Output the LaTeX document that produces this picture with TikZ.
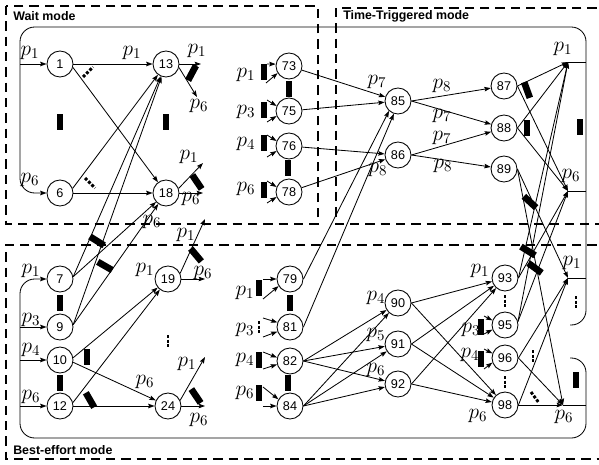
\RequirePackage{fix-cm}
\documentclass[tikz,border=0pt]{standalone}
\usepackage{fontspec}
\setsansfont{Liberation Sans}
\usetikzlibrary{arrows.meta}
\begin{document}
\begin{tikzpicture}[x=0.75pt,y=-0.75pt,
  st/.style={circle,draw,fill=white,line width=0.65pt,minimum size=19.5pt,inner sep=0pt,
    font=\sffamily\fontsize{9.5}{10}\selectfont},
  arr/.style={line width=0.62pt,-{Stealth[length=4.8pt,width=3.4pt,inset=0.8pt]}},
  ln/.style={line width=0.62pt},
  lab/.style={inner sep=0pt,font=\fontsize{16}{17}\selectfont},
  blk/.style={fill=black,draw=none,inner sep=0pt,minimum width=5pt,minimum height=12.5pt},
  dotm/.style={line width=2.2pt,dash pattern=on 2.2pt off 1.3pt},
  modebox/.style={line width=0.9pt,dash pattern=on 7pt off 4.5pt},
  modetitle/.style={anchor=west,inner sep=0pt,font=\sffamily\bfseries\fontsize{9.3}{11}\selectfont},
]
\useasboundingbox (0,0) rectangle (599,464);

% ---------- mode frames ----------
\draw[modebox] (6,6) rectangle (318,224);
\draw[modebox] (612,8) -- (336,8) -- (336,224) -- (612,224);
\draw[modebox] (612,245) -- (6,245) -- (6,459) -- (612,459);
\node[modetitle] (tw) at (13,16) {Wait mode};
\node[modetitle] (tt) at (343,16) {Time-Triggered mode};
\node[modetitle] (tb) at (13,450) {Best-effort mode};

% ---------- states ----------
\node[st] (n1)  at (60,64)  {1};
\node[st] (n6)  at (60,193) {6};
\node[st] (n13) at (166,64) {13};
\node[st] (n18) at (166,193) {18};
\node[st] (n7)  at (60,279) {7};
\node[st] (n9)  at (60,327) {9};
\node[st] (n10) at (60,360) {10};
\node[st] (n12) at (60,406) {12};
\node[st] (n19) at (168,279) {19};
\node[st] (n24) at (168,406) {24};
\node[st] (n73) at (289,66)  {73};
\node[st] (n75) at (289,111) {75};
\node[st] (n76) at (289,146) {76};
\node[st] (n78) at (289,192) {78};
\node[st] (n79) at (290,279) {79};
\node[st] (n81) at (290,327) {81};
\node[st] (n82) at (290,361) {82};
\node[st] (n84) at (290,406) {84};
\node[st] (n85) at (398,101) {85};
\node[st] (n86) at (398,155) {86};
\node[st] (n87) at (504,86)  {87};
\node[st] (n88) at (504,128) {88};
\node[st] (n89) at (504,169) {89};
\node[st] (n90) at (398,303) {90};
\node[st] (n91) at (398,344) {91};
\node[st] (n92) at (398,384) {92};
\node[st] (n93) at (505,278) {93};
\node[st] (n95) at (505,325) {95};
\node[st] (n96) at (505,358) {96};
\node[st] (n98) at (505,405) {98};

% ---------- loop ends ----------
\coordinate (w1) at (20,64);
\coordinate (b3) at (20,327);
\coordinate (b4) at (20,360);
\coordinate (b6) at (20,406);
\coordinate (ttp1) at (568,62);
\coordinate (ttp6) at (568,191);
\coordinate (bep1) at (568,278);
\coordinate (bep6) at (563,405);
\coordinate (rtp1) at (586,62);
\coordinate (rtp6) at (586,191);
\coordinate (rbp1) at (586,278);
\coordinate (rbp6) at (586,405);

\draw[arr,rounded corners=11] (570,325) -- (586,325) -- (586,27) -- (20,27) -- (20,193) -- (n6.west);
\draw[arr] (w1) -- (n1.west);
\draw[arr,rounded corners=11] (570,358) -- (586,358) -- (586,438) -- (20,438) -- (20,279) -- (n7.west);
\draw[arr] (b3) -- (n9.west);
\draw[arr] (b4) -- (n10.west);
\draw[arr] (b6) -- (n12.west);
\draw[ln] (ttp1) -- (rtp1);
\draw[ln] (ttp6) -- (rtp6);
\draw[ln] (bep1) -- (rbp1);
\draw[ln] (bep6) -- (rbp6);

% ---------- wait mode transitions ----------
\draw[arr] (n1) -- (n13);
\draw[arr] (n1.-15) -- (n18);
\draw[arr] (n6.20) -- (n13);
\draw[arr] (n6) -- (n18);
\draw[arr] (n7.10) -- (n13);
\draw[arr] (n7.10) -- (n18);
\draw[arr] (n9.10) -- (n13);
\draw[arr] (n9.10) -- (n18);
\coordinate (o13a) at (201,64);
\coordinate (o13b) at (197,97);
\coordinate (o18a) at (203,163);
\coordinate (o18b) at (203,193);
\draw[arr] (n13.east) -- (o13a);
\draw[arr] (n13.-15) -- (o13b);
\draw[arr] (n18.20) -- (o18a);
\draw[arr] (n18.east) -- (o18b);

% ---------- best-effort, left part ----------
\draw[arr] (n10.10) -- (n19);
\draw[arr] (n10.-10) -- (n24);
\draw[arr] (n12.15) -- (n19);
\draw[arr] (n12) -- (n24);
\coordinate (o19a) at (205,219);
\coordinate (o19b) at (205,279);
\coordinate (o24a) at (205,357);
\coordinate (o24b) at (205,406);
\draw[arr] (n19.25) -- (o19a);
\draw[arr] (n19.east) -- (o19b);
\draw[arr] (n24.25) -- (o24a);
\draw[arr] (n24.east) -- (o24b);

% ---------- entry stubs ----------
\coordinate (i73a) at (267,64);  \coordinate (i73b) at (266,83);
\coordinate (i75a) at (267,100); \coordinate (i75b) at (267,122);
\coordinate (i76a) at (267,135); \coordinate (i76b) at (267,157);
\coordinate (i78a) at (267,181); \coordinate (i78b) at (267,203);
\coordinate (i79a) at (263,279); \coordinate (i79b) at (263,299);
\coordinate (i81a) at (263,318); \coordinate (i81b) at (263,337);
\coordinate (i82a) at (263,352); \coordinate (i82b) at (263,369);
\coordinate (i84a) at (263,387); \coordinate (i84b) at (263,406);
\coordinate (i95a) at (484,316); \coordinate (i95b) at (484,334);
\coordinate (i96a) at (484,349); \coordinate (i96b) at (484,369);
\draw[arr] (i73a) -- (n73.172); \draw[arr] (i73b) -- (n73.212);
\draw[arr] (i75a) -- (n75.158); \draw[arr] (i75b) -- (n75.202);
\draw[arr] (i76a) -- (n76.158); \draw[arr] (i76b) -- (n76.202);
\draw[arr] (i78a) -- (n78.158); \draw[arr] (i78b) -- (n78.202);
\draw[arr] (i79a) -- (n79.west); \draw[arr] (i79b) -- (n79.212);
\draw[arr] (i81a) -- (n81.160); \draw[arr] (i81b) -- (n81.200);
\draw[arr] (i82a) -- (n82.165); \draw[arr] (i82b) -- (n82.195);
\draw[arr] (i84a) -- (n84.150); \draw[arr] (i84b) -- (n84.west);
\draw[arr] (i95a) -- (n95.160); \draw[arr] (i95b) -- (n95.200);
\draw[arr] (i96a) -- (n96.160); \draw[arr] (i96b) -- (n96.200);

% ---------- time-triggered transitions ----------
\draw[arr] (n73) -- (n85);
\draw[arr] (n75) -- (n85);
\draw[arr] (n76) -- (n86);
\draw[arr] (n78) -- (n86);
\draw[arr] (n79.east) -- (n85.228);
\draw[arr] (n81.east) -- (n85.252);
\draw[arr] (n85.east) -- (n87);
\draw[arr] (n85.east) -- (n88);
\draw[arr] (n86.east) -- (n88);
\draw[arr] (n86.east) -- (n89);
\draw[arr] (n87.east) -- (ttp1);
\draw[arr] (n87.east) -- (ttp6);
\draw[arr] (n88.east) -- (ttp1);
\draw[arr] (n88.east) -- (ttp6);
\draw[arr] (n89.east) -- (bep1);
\draw[arr] (n89.east) -- (bep6);

% ---------- best-effort, right part ----------
\foreach \s in {n82,n84}{
  \draw[arr] (\s.east) -- (n90);
  \draw[arr] (\s.east) -- (n91);
  \draw[arr] (\s.east) -- (n92);
}
\foreach \s in {n90,n91,n92}{
  \draw[arr] (\s.east) -- (n93);
  \draw[arr] (\s.east) -- (n98);
}
\draw[arr] (n93.east) -- (ttp1);
\draw[arr] (n93.east) -- (ttp6);
\draw[arr] (n95.15) -- (ttp1);
\draw[arr] (n95.15) -- (ttp6);
\draw[arr] (n96.east) -- (bep1);
\draw[arr] (n96.east) -- (bep6);
\draw[arr] (n98.east) -- (bep1);
\draw[arr] (n98.east) -- (bep6);

% ---------- bars standing for omitted states / transitions ----------
\node[blk] (k1)  at (60,122) {};
\node[blk,minimum width=4.5pt,minimum height=11.5pt] (k2)  at (166,122) {};
\node[blk,rotate=-28] (k3)  at (192,73) {};
\node[blk,rotate=34]  (k4)  at (197,182) {};
\node[blk,rotate=58]  (k5)  at (97,241) {};
\node[blk,rotate=60]  (k6)  at (105,266) {};
\node[blk] (k7)  at (60,303) {};
\node[blk] (k8)  at (60,383) {};
\node[blk,minimum height=11.5pt] (k9)  at (87,357) {};
\node[blk,rotate=30]  (k10) at (90,400) {};
\node[blk,rotate=40]  (k11) at (196,255) {};
\node[blk,rotate=34]  (k12) at (196,396) {};
\node[blk,minimum width=4.5pt] (k13) at (264,72) {};
\node[blk,minimum width=4.5pt] (k14) at (264,110) {};
\node[blk,minimum width=4.5pt] (k15) at (264,143) {};
\node[blk,minimum width=4.5pt] (k16) at (264,190) {};
\node[blk] (k17) at (289,89) {};
\node[blk] (k18) at (288,168) {};
\node[blk,minimum width=4.5pt] (k19) at (259,288) {};
\node[blk,minimum width=4.5pt] (k20) at (259,360) {};
\node[blk,minimum width=4.5pt] (k21) at (259,393) {};
\node[blk] (k22) at (290,303) {};
\node[blk] (k23) at (288,383) {};
\node[blk,minimum width=4.5pt] (k24) at (481,327) {};
\node[blk,minimum width=4.5pt] (k25) at (481,359) {};
\node[blk,rotate=20]  (k26) at (527,90) {};
\node[blk] (k27) at (527,128) {};
\node[blk] (k28) at (580,127) {};
\node[blk,rotate=47]  (k29) at (530,202) {};
\node[blk,rotate=58]  (k30) at (528,251) {};
\node[blk,rotate=54]  (k31) at (535,268) {};
\node[blk] (k32) at (576,380) {};

% ---------- dotted ellipses ----------
\coordinate (d1a) at (83,77);   \coordinate (d1b) at (93,67);
\coordinate (d2a) at (85,178);  \coordinate (d2b) at (95,188);
\coordinate (d3a) at (168,335); \coordinate (d3b) at (168,347);
\coordinate (d4a) at (259,321); \coordinate (d4b) at (259,333);
\coordinate (d5a) at (505,295); \coordinate (d5b) at (505,307);
\coordinate (d6a) at (505,376); \coordinate (d6b) at (505,388);
\coordinate (d7a) at (576,296); \coordinate (d7b) at (576,308);
\coordinate (d8a) at (533,350); \coordinate (d8b) at (533,362);
\coordinate (d9a) at (531,392); \coordinate (d9b) at (539,403);
\foreach \a/\b in {d1a/d1b,d2a/d2b,d3a/d3b,d4a/d4b,d5a/d5b,d6a/d6b,d7a/d7b,d8a/d8b,d9a/d9b}
  \draw[dotm] (\a) -- (\b);

% ---------- flow labels ----------
\node[lab] (lw1)  at (30,53)   {$p_1$};
\node[lab] (lw6)  at (30,180)  {$p_6$};
\node[lab] (l13i) at (132,53)  {$p_1$};
\node[lab] (l13a) at (197,51)  {$p_1$};
\node[lab] (l13b) at (199,106) {$p_6$};
\node[lab] (l18a) at (189,157) {$p_1$};
\node[lab] (l18b) at (191,199) {$p_6$};
\node[lab] (l18i) at (152,222) {$p_6$};
\node[lab] (lb1)  at (31,271)  {$p_1$};
\node[lab] (lb3)  at (31,320)  {$p_3$};
\node[lab] (lb4)  at (31,350)  {$p_4$};
\node[lab] (lb6)  at (31,397)  {$p_6$};
\node[lab] (l19i) at (145,270) {$p_1$};
\node[lab] (l24i) at (145,382) {$p_6$};
\node[lab] (l19a) at (186,235) {$p_1$};
\node[lab] (l19b) at (203,273) {$p_6$};
\node[lab] (l24a) at (187,364) {$p_1$};
\node[lab] (l24b) at (199,420) {$p_6$};
\node[lab] (lm1)  at (246,75)  {$p_1$};
\node[lab] (lm3)  at (246,112) {$p_3$};
\node[lab] (lm4)  at (246,144) {$p_4$};
\node[lab] (lm6)  at (246,189) {$p_6$};
\node[lab] (ln1)  at (245,293) {$p_1$};
\node[lab] (ln3)  at (245,330) {$p_3$};
\node[lab] (ln4)  at (245,360) {$p_4$};
\node[lab] (ln6)  at (245,393) {$p_6$};
\node[lab] (l85)  at (377,82)  {$p_7$};
\node[lab] (l86)  at (378,170) {$p_8$};
\node[lab] (l87)  at (442,86)  {$p_8$};
\node[lab] (l88a) at (442,116) {$p_7$};
\node[lab] (l88b) at (442,138) {$p_7$};
\node[lab] (l89)  at (443,166) {$p_8$};
\node[lab] (ltp1) at (563,49)  {$p_1$};
\node[lab] (ltp6) at (571,176) {$p_6$};
\node[lab] (l90)  at (376,298) {$p_4$};
\node[lab] (l91)  at (376,335) {$p_5$};
\node[lab] (l92)  at (376,370) {$p_6$};
\node[lab] (l93)  at (480,271) {$p_1$};
\node[lab] (l95)  at (471,330) {$p_3$};
\node[lab] (l96)  at (470,355) {$p_4$};
\node[lab] (l98)  at (478,416) {$p_6$};
\node[lab] (lbp1) at (572,263) {$p_1$};
\node[lab] (lbp6) at (564,417) {$p_6$};
\end{tikzpicture}
\end{document}
